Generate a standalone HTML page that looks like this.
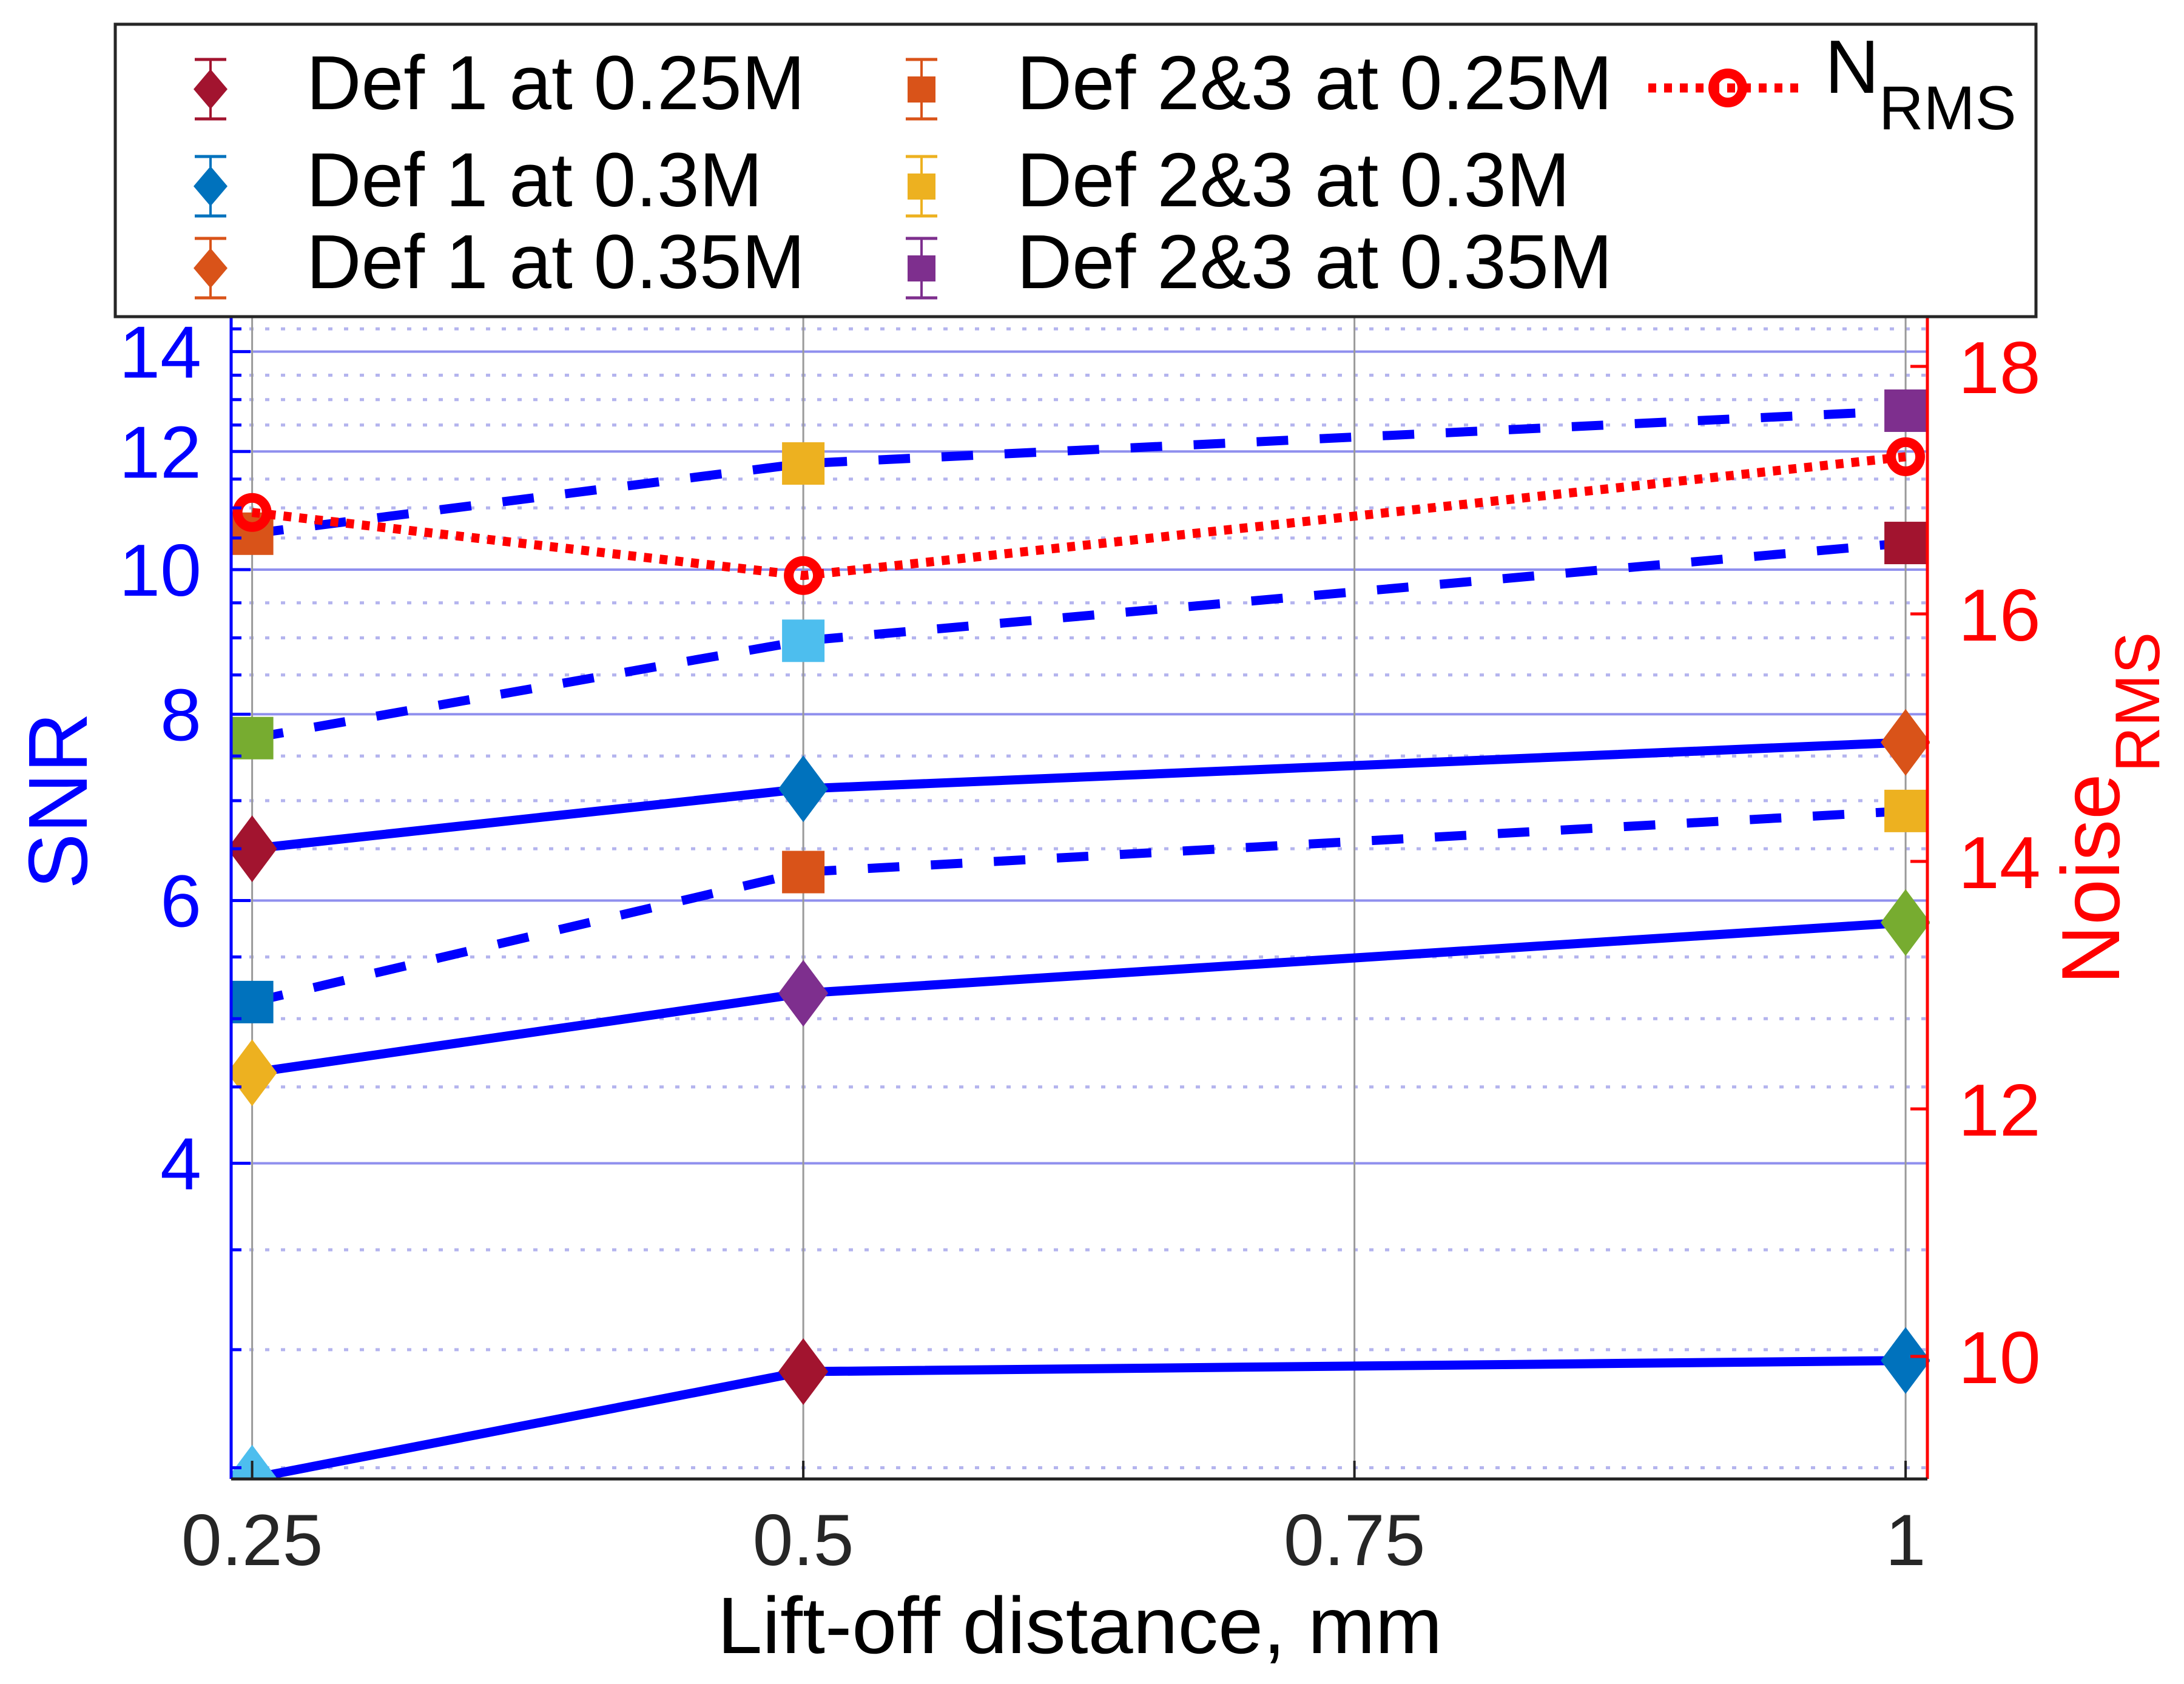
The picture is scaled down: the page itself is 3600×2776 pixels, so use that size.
<!DOCTYPE html>
<html><head><meta charset="utf-8"><style>
html,body{margin:0;padding:0;background:#fff;}
svg{display:block;font-family:"Liberation Sans",Arial,sans-serif;}
</style></head><body>
<svg id="chart" width="3600" height="2776" viewBox="0 0 3600 2776" xmlns="http://www.w3.org/2000/svg">
<defs><clipPath id="plotclip"><rect x="381" y="522" width="820" height="1916"/><rect x="381" y="522" width="2800" height="1916"/></clipPath></defs>
<g id="grid"></g>
<g id="series" clip-path="url(#plotclip)"></g>
<g id="axes"></g>
<g id="legend"></g>
</svg>
<script>
// ---- data ----
const xValues = [0.25, 0.5, 1];
const xTicks = [0.25, 0.5, 0.75, 1];
const xTickLabels = ["0.25", "0.5", "0.75", "1"];
const yTicks = [4, 6, 8, 10, 12, 14];
const yMinor = [2.5, 3, 3.5, 4.5, 5, 5.5, 6.5, 7, 7.5, 8.5, 9, 9.5, 10.5, 11, 11.5, 12.5, 13, 13.5, 14.5];
const y2Ticks = [10, 12, 14, 16, 18];
// solid lines (Def 1)
const solidA = [6.50, 7.13, 7.66];
const solidB = [4.60, 5.20, 5.80];
const solidC = [2.46, 2.90, 2.95];
// dashed lines (Def 2&3)
const dashD = [10.57, 11.78, 12.78];
const dashE = [7.71, 8.96, 10.42];
const dashF = [5.13, 6.27, 6.89];
// Noise RMS (right axis)
const nrms = [16.82, 16.31, 17.27];
const colDR = "#A2142F", colB = "#0072BD", colO = "#D95319", colY = "#EDB120", colP = "#7E2F8E", colG = "#77AC30", colLB = "#4DBEEE";
const colorsA = [colDR, colB, colO], colorsB = [colY, colP, colG], colorsC = [colLB, colDR, colB];
const colorsD = [colO, colY, colP], colorsE = [colG, colLB, colDR], colorsF = [colB, colO, colY];

// ---- scales ----
const L = 381, R = 3177, T = 522, B = 2438;
function sx(v){ return 415.6 + (v - 0.25) / 0.25 * 908.5; }
function sy(v){ return 939 - 1068 * Math.log(v / 10); }
function sy2(v){ return 1012 - (v - 16) * 204; }
const NS = "http://www.w3.org/2000/svg";
function mk(tag, attrs, parent){ const e = document.createElementNS(NS, tag); for (const k in attrs) e.setAttribute(k, attrs[k]); parent.appendChild(e); return e; }
const grid = document.getElementById('grid'), series = document.getElementById('series'), axes = document.getElementById('axes'), legend = document.getElementById('legend');

// grid
yMinor.forEach(v => { const y = sy(v);
  const g = mk('line', {x1: L+30, x2: R, y1: y, y2: y, stroke: "#b4b4ee", "stroke-width": 5, "stroke-dasharray": "7 19"}, grid);
  
  
});
yTicks.forEach(v => { const y = sy(v);
  const g = mk('line', {x1: L, x2: R, y1: y, y2: y, stroke: "#8f8fee", "stroke-width": 4}, grid);
  
  
});
xTicks.forEach(v => { const x = sx(v);
  const g = mk('line', {x1: x, x2: x, y1: T, y2: B, stroke: "#9a9a9a", "stroke-width": 3}, grid);
  
  
});

// markers
function diamond(x, y, c, parent, w, h){ w = w || 41; h = h || 55;
  return mk('polygon', {points: `${x},${y-h} ${x+w},${y} ${x},${y+h} ${x-w},${y}`, fill: c}, parent); }
function square(x, y, c, parent, s){ s = s || 35;
  return mk('rect', {x: x-s, y: y-s, width: 2*s, height: 2*s, fill: c}, parent); }

function drawSeries(vals, colors, dashed, name){
  const pts = vals.map((v, i) => `${sx(xValues[i])},${sy(v)}`).join(' ');
  const pl = mk('polyline', {points: pts, fill: "none", stroke: "#0000ff", "stroke-width": 15, "stroke-dasharray": dashed ? "52 52" : "none"}, series);
  
  
  vals.forEach((v, i) => {
    const m = dashed ? square(sx(xValues[i]), sy(v), colors[i], series) : diamond(sx(xValues[i]), sy(v), colors[i], series);
    
    
  });
}
drawSeries(solidA, colorsA, false, 'def1-series-a');
drawSeries(solidB, colorsB, false, 'def1-series-b');
drawSeries(solidC, colorsC, false, 'def1-series-c');
drawSeries(dashD, colorsD, true, 'def23-series-d');
drawSeries(dashE, colorsE, true, 'def23-series-e');
drawSeries(dashF, colorsF, true, 'def23-series-f');

// NRMS
const npts = nrms.map((v, i) => `${sx(xValues[i])},${sy2(v)}`).join(' ');
const nl = mk('polyline', {points: npts, fill: "none", stroke: "#ff0000", "stroke-width": 15, "stroke-dasharray": "13 13"}, series);


nrms.forEach((v, i) => {
  const c = mk('circle', {cx: sx(xValues[i]), cy: sy2(v), r: 24, fill: "none", stroke: "#ff0000", "stroke-width": 16}, series);
  
  
});

// axes
let a;
a = mk('line', {x1: L, x2: L, y1: T, y2: B, stroke: "#0000ff", "stroke-width": 5}, axes);
 
a = mk('line', {x1: R, x2: R, y1: T, y2: B, stroke: "#ff0000", "stroke-width": 5}, axes);
 
a = mk('line', {x1: L, x2: R, y1: B, y2: B, stroke: "#222", "stroke-width": 5}, axes);
 
yMinor.forEach(v => { const t = mk('line', {x1: L, x2: L+17, y1: sy(v), y2: sy(v), stroke: "#0000ff", "stroke-width": 5}, axes);
    });
yTicks.forEach(v => { const y = sy(v);
  const t = mk('line', {x1: L, x2: L+32, y1: y, y2: y, stroke: "#0000ff", "stroke-width": 5}, axes);
   
  const tx = mk('text', {x: 332, y: y + 43, "text-anchor": "end", "font-size": 122, fill: "#0000ff"}, axes);
  tx.textContent = String(v);
   
});
y2Ticks.forEach(v => { const y = sy2(v);
  const t = mk('line', {x1: R-28, x2: R, y1: y, y2: y, stroke: "#ff0000", "stroke-width": 5}, axes);
   
  const tx = mk('text', {x: 3228, y: y + 44, "font-size": 122, fill: "#ff0000"}, axes);
  tx.textContent = String(v);
   
});
xTicks.forEach((v, i) => { const x = sx(v);
  const t = mk('line', {x1: x, x2: x, y1: B-30, y2: B, stroke: "#222", "stroke-width": 4}, axes);
   
  const tx = mk('text', {x: x, y: 2580, "text-anchor": "middle", "font-size": 120, fill: "#262626"}, axes);
  tx.textContent = xTickLabels[i];
   
});
let t;
t = mk('text', {x: 1780, y: 2725, "text-anchor": "middle", "font-size": 132, fill: "#000", textLength: 1195, lengthAdjust: "spacingAndGlyphs"}, axes);
t.textContent = "Lift-off distance, mm";
 
t = mk('text', {x: 0, y: 0, "text-anchor": "middle", "font-size": 138, fill: "#0000ff", transform: "translate(143,1320) rotate(-90)"}, axes);
t.textContent = "SNR";
 
t = mk('text', {x: 0, y: 0, "font-size": 136, fill: "#ff0000", transform: "translate(3493,1623) rotate(-90)"}, axes);
t.textContent = "Noise";
 
t = mk('text', {x: 0, y: 0, "font-size": 104, fill: "#ff0000", transform: "translate(3559,1273) rotate(-90)"}, axes);
t.textContent = "RMS";
 

// legend
const lgBox = mk('rect', {x: 190, y: 40, width: 3166, height: 482, fill: "#fff", stroke: "#262626", "stroke-width": 5}, legend);
 
const legendLabels1 = ["Def 1 at 0.25M", "Def 1 at 0.3M", "Def 1 at 0.35M"];
const legendLabels2 = ["Def 2&3 at 0.25M", "Def 2&3 at 0.3M", "Def 2&3 at 0.35M"];
const legendColors1 = [colDR, colB, colO], legendColors2 = [colO, colY, colP];
const rowY = [147, 307, 442];
function errbar(x, y, c){
  mk('line', {x1: x, x2: x, y1: y-49, y2: y+49, stroke: c, "stroke-width": 4}, legend);
  mk('line', {x1: x-26, x2: x+26, y1: y-49, y2: y-49, stroke: c, "stroke-width": 5}, legend);
  mk('line', {x1: x-26, x2: x+26, y1: y+49, y2: y+49, stroke: c, "stroke-width": 5}, legend);
}
rowY.forEach((y, i) => {
  errbar(347, y, legendColors1[i]);
  const d = diamond(347, y, legendColors1[i], legend, 28, 33);
   
  const tx = mk('text', {x: 505, y: y + 33, "font-size": 126, fill: "#000", textLength: i === 1 ? 752 : 822, lengthAdjust: "spacingAndGlyphs"}, legend);
  tx.textContent = legendLabels1[i];
   
  errbar(1519, y, legendColors2[i]);
  const s = mk('rect', {x: 1496, y: y-21, width: 46, height: 43, fill: legendColors2[i]}, legend);
   
  const tx2 = mk('text', {x: 1676, y: y + 33, "font-size": 126, fill: "#000", textLength: i === 1 ? 912 : 982, lengthAdjust: "spacingAndGlyphs"}, legend);
  tx2.textContent = legendLabels2[i];
   
});
const nlL = mk('line', {x1: 2717, x2: 2967, y1: 145, y2: 145, stroke: "#ff0000", "stroke-width": 15, "stroke-dasharray": "13 13"}, legend);
 
const ncL = mk('circle', {cx: 2848, cy: 145, r: 24, fill: "none", stroke: "#ff0000", "stroke-width": 16}, legend);
 
const nt = mk('text', {x: 3008, y: 153, "font-size": 124, fill: "#000"}, legend);
nt.textContent = "N";
 
const nt2 = mk('text', {x: 3097, y: 213, "font-size": 102, fill: "#000"}, legend);
nt2.textContent = "RMS";
 
</script>
</body></html>
